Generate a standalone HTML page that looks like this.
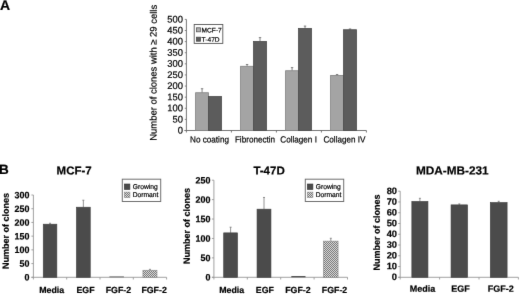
<!DOCTYPE html>
<html><head><meta charset="utf-8"><title>Figure</title>
<style>
html,body{margin:0;padding:0;background:#fff;}
body{width:520px;height:294px;overflow:hidden;font-family:"Liberation Sans", sans-serif;}
svg{display:block;will-change:transform;filter:grayscale(1);}
svg text{font-family:"Liberation Sans", sans-serif;fill:#000;stroke:#000;stroke-width:0.2px;}
</style></head><body>
<svg width="520" height="294" viewBox="0 0 520 294">
<defs>
<pattern id="chk" width="2" height="2" patternUnits="userSpaceOnUse">
<rect width="2" height="2" fill="#e4e4e4"/><rect width="1" height="1" fill="#6e6e6e"/><rect x="1" y="1" width="1" height="1" fill="#6e6e6e"/>
</pattern>
<filter id="soft" color-interpolation-filters="sRGB" x="0" y="0" width="520" height="294" filterUnits="userSpaceOnUse"><feConvolveMatrix order="3" kernelMatrix="0.0072 0.0847 0.0072 0.0847 1.0000 0.0847 0.0072 0.0847 0.0072" divisor="1.3673" edgeMode="duplicate" preserveAlpha="true"/></filter>
</defs>
<g filter="url(#soft)">
<rect width="520" height="294" fill="#fff"/>
<text transform="translate(-0.10,10.10) rotate(0.03) scale(1.0,1)" font-size="14" font-weight="bold" text-anchor="start">A</text>
<text transform="translate(-1.00,173.90) rotate(0.03) scale(1.0,1)" font-size="13.5" font-weight="bold" text-anchor="start">B</text>
<line x1="186.40" y1="19.40" x2="186.40" y2="132.50" stroke="#666" stroke-width="0.9"/>
<line x1="184.40" y1="130.50" x2="366.40" y2="130.50" stroke="#666" stroke-width="0.9"/>
<line x1="184.80" y1="130.50" x2="186.40" y2="130.50" stroke="#777" stroke-width="0.9"/>
<text transform="translate(183.00,133.50) rotate(0.03) scale(0.98,1)" font-size="9.6" stroke-width="0.35" text-anchor="end">0</text>
<line x1="184.80" y1="119.39" x2="186.40" y2="119.39" stroke="#777" stroke-width="0.9"/>
<text transform="translate(183.00,122.39) rotate(0.03) scale(0.98,1)" font-size="9.6" stroke-width="0.35" text-anchor="end">50</text>
<line x1="184.80" y1="108.28" x2="186.40" y2="108.28" stroke="#777" stroke-width="0.9"/>
<text transform="translate(183.00,111.28) rotate(0.03) scale(0.98,1)" font-size="9.6" stroke-width="0.35" text-anchor="end">100</text>
<line x1="184.80" y1="97.17" x2="186.40" y2="97.17" stroke="#777" stroke-width="0.9"/>
<text transform="translate(183.00,100.17) rotate(0.03) scale(0.98,1)" font-size="9.6" stroke-width="0.35" text-anchor="end">150</text>
<line x1="184.80" y1="86.06" x2="186.40" y2="86.06" stroke="#777" stroke-width="0.9"/>
<text transform="translate(183.00,89.06) rotate(0.03) scale(0.98,1)" font-size="9.6" stroke-width="0.35" text-anchor="end">200</text>
<line x1="184.80" y1="74.95" x2="186.40" y2="74.95" stroke="#777" stroke-width="0.9"/>
<text transform="translate(183.00,77.95) rotate(0.03) scale(0.98,1)" font-size="9.6" stroke-width="0.35" text-anchor="end">250</text>
<line x1="184.80" y1="63.84" x2="186.40" y2="63.84" stroke="#777" stroke-width="0.9"/>
<text transform="translate(183.00,66.84) rotate(0.03) scale(0.98,1)" font-size="9.6" stroke-width="0.35" text-anchor="end">300</text>
<line x1="184.80" y1="52.73" x2="186.40" y2="52.73" stroke="#777" stroke-width="0.9"/>
<text transform="translate(183.00,55.73) rotate(0.03) scale(0.98,1)" font-size="9.6" stroke-width="0.35" text-anchor="end">350</text>
<line x1="184.80" y1="41.62" x2="186.40" y2="41.62" stroke="#777" stroke-width="0.9"/>
<text transform="translate(183.00,44.62) rotate(0.03) scale(0.98,1)" font-size="9.6" stroke-width="0.35" text-anchor="end">400</text>
<line x1="184.80" y1="30.51" x2="186.40" y2="30.51" stroke="#777" stroke-width="0.9"/>
<text transform="translate(183.00,33.51) rotate(0.03) scale(0.98,1)" font-size="9.6" stroke-width="0.35" text-anchor="end">450</text>
<line x1="184.80" y1="19.40" x2="186.40" y2="19.40" stroke="#777" stroke-width="0.9"/>
<text transform="translate(183.00,22.40) rotate(0.03) scale(0.98,1)" font-size="9.6" stroke-width="0.35" text-anchor="end">500</text>
<line x1="231.40" y1="130.50" x2="231.40" y2="132.50" stroke="#666" stroke-width="0.9"/>
<line x1="276.40" y1="130.50" x2="276.40" y2="132.50" stroke="#666" stroke-width="0.9"/>
<line x1="321.40" y1="130.50" x2="321.40" y2="132.50" stroke="#666" stroke-width="0.9"/>
<line x1="366.40" y1="130.50" x2="366.40" y2="132.50" stroke="#666" stroke-width="0.9"/>
<line x1="202.07" y1="88.73" x2="202.07" y2="92.73" stroke="#666" stroke-width="0.8"/>
<line x1="200.88" y1="88.73" x2="203.27" y2="88.73" stroke="#666" stroke-width="0.8"/>
<rect x="195.60" y="92.73" width="12.95" height="37.77" fill="#a4a4a4" stroke="#808080" stroke-width="0.8"/>
<rect x="208.55" y="96.50" width="12.95" height="34.00" fill="#5c5c5c" stroke="#4a4a4a" stroke-width="0.8"/>
<line x1="247.07" y1="64.51" x2="247.07" y2="66.28" stroke="#666" stroke-width="0.8"/>
<line x1="245.88" y1="64.51" x2="248.27" y2="64.51" stroke="#666" stroke-width="0.8"/>
<line x1="260.02" y1="37.62" x2="260.02" y2="41.40" stroke="#666" stroke-width="0.8"/>
<line x1="258.82" y1="37.62" x2="261.22" y2="37.62" stroke="#666" stroke-width="0.8"/>
<rect x="240.60" y="66.28" width="12.95" height="64.22" fill="#a4a4a4" stroke="#808080" stroke-width="0.8"/>
<rect x="253.55" y="41.40" width="12.95" height="89.10" fill="#5c5c5c" stroke="#4a4a4a" stroke-width="0.8"/>
<line x1="292.07" y1="67.62" x2="292.07" y2="70.73" stroke="#666" stroke-width="0.8"/>
<line x1="290.88" y1="67.62" x2="293.27" y2="67.62" stroke="#666" stroke-width="0.8"/>
<line x1="305.02" y1="26.07" x2="305.02" y2="28.40" stroke="#666" stroke-width="0.8"/>
<line x1="303.82" y1="26.07" x2="306.22" y2="26.07" stroke="#666" stroke-width="0.8"/>
<rect x="285.60" y="70.73" width="12.95" height="59.77" fill="#a4a4a4" stroke="#808080" stroke-width="0.8"/>
<rect x="298.55" y="28.40" width="12.95" height="102.10" fill="#5c5c5c" stroke="#4a4a4a" stroke-width="0.8"/>
<line x1="337.07" y1="74.51" x2="337.07" y2="75.39" stroke="#666" stroke-width="0.8"/>
<line x1="335.88" y1="74.51" x2="338.27" y2="74.51" stroke="#666" stroke-width="0.8"/>
<line x1="350.02" y1="28.95" x2="350.02" y2="29.73" stroke="#666" stroke-width="0.8"/>
<line x1="348.82" y1="28.95" x2="351.22" y2="28.95" stroke="#666" stroke-width="0.8"/>
<rect x="330.60" y="75.39" width="12.95" height="55.11" fill="#a4a4a4" stroke="#808080" stroke-width="0.8"/>
<rect x="343.55" y="29.73" width="12.95" height="100.77" fill="#5c5c5c" stroke="#4a4a4a" stroke-width="0.8"/>
<text transform="translate(209.50,142.50) rotate(0.03) scale(0.915,1)" font-size="8.9" stroke-width="0.35" text-anchor="middle">No coating</text>
<text transform="translate(255.00,142.50) rotate(0.03) scale(0.915,1)" font-size="8.9" stroke-width="0.35" text-anchor="middle">Fibronectin</text>
<text transform="translate(298.60,142.50) rotate(0.03) scale(0.915,1)" font-size="8.9" stroke-width="0.35" text-anchor="middle">Collagen I</text>
<text transform="translate(344.50,142.50) rotate(0.03) scale(0.915,1)" font-size="8.9" stroke-width="0.35" text-anchor="middle">Collagen IV</text>
<text transform="translate(156.60,72.80) rotate(-89.97)" font-size="9.45" stroke-width="0.35" text-anchor="middle">Number of clones with &#8805; 29 cells</text>
<rect x="194.20" y="24.50" width="28.60" height="18.90" fill="#fff" stroke="#555" stroke-width="0.9"/>
<rect x="196.40" y="27.80" width="4.00" height="4.00" fill="#b0b0b0" stroke="#555" stroke-width="0.8"/>
<rect x="196.40" y="37.20" width="4.00" height="4.00" fill="#5c5c5c" stroke="#444" stroke-width="0.8"/>
<text transform="translate(201.60,32.40) rotate(0.03) scale(1.0,1)" font-size="6.6" text-anchor="start" stroke="none" fill="#222">MCF-7</text>
<text transform="translate(201.60,41.80) rotate(0.03) scale(1.0,1)" font-size="6.6" text-anchor="start" stroke="none" fill="#222">T-47D</text>
<line x1="33.40" y1="195.00" x2="33.40" y2="279.50" stroke="#979797" stroke-width="0.9"/>
<line x1="31.40" y1="277.30" x2="166.60" y2="277.30" stroke="#979797" stroke-width="0.9"/>
<line x1="31.40" y1="277.30" x2="33.40" y2="277.30" stroke="#979797" stroke-width="0.9"/>
<text transform="translate(29.50,280.56) rotate(0.03) scale(0.96,1)" font-size="9.3" font-weight="bold" text-anchor="end">0</text>
<line x1="31.40" y1="263.58" x2="33.40" y2="263.58" stroke="#979797" stroke-width="0.9"/>
<text transform="translate(29.50,266.84) rotate(0.03) scale(0.96,1)" font-size="9.3" font-weight="bold" text-anchor="end">50</text>
<line x1="31.40" y1="249.87" x2="33.40" y2="249.87" stroke="#979797" stroke-width="0.9"/>
<text transform="translate(29.50,253.12) rotate(0.03) scale(0.96,1)" font-size="9.3" font-weight="bold" text-anchor="end">100</text>
<line x1="31.40" y1="236.15" x2="33.40" y2="236.15" stroke="#979797" stroke-width="0.9"/>
<text transform="translate(29.50,239.41) rotate(0.03) scale(0.96,1)" font-size="9.3" font-weight="bold" text-anchor="end">150</text>
<line x1="31.40" y1="222.43" x2="33.40" y2="222.43" stroke="#979797" stroke-width="0.9"/>
<text transform="translate(29.50,225.69) rotate(0.03) scale(0.96,1)" font-size="9.3" font-weight="bold" text-anchor="end">200</text>
<line x1="31.40" y1="208.72" x2="33.40" y2="208.72" stroke="#979797" stroke-width="0.9"/>
<text transform="translate(29.50,211.97) rotate(0.03) scale(0.96,1)" font-size="9.3" font-weight="bold" text-anchor="end">250</text>
<line x1="31.40" y1="195.00" x2="33.40" y2="195.00" stroke="#979797" stroke-width="0.9"/>
<text transform="translate(29.50,198.25) rotate(0.03) scale(0.96,1)" font-size="9.3" font-weight="bold" text-anchor="end">300</text>
<line x1="66.70" y1="277.30" x2="66.70" y2="279.50" stroke="#979797" stroke-width="0.9"/>
<line x1="100.00" y1="277.30" x2="100.00" y2="279.50" stroke="#979797" stroke-width="0.9"/>
<line x1="133.30" y1="277.30" x2="133.30" y2="279.50" stroke="#979797" stroke-width="0.9"/>
<line x1="166.60" y1="277.30" x2="166.60" y2="279.50" stroke="#979797" stroke-width="0.9"/>
<line x1="50.05" y1="223.26" x2="50.05" y2="224.19" stroke="#777" stroke-width="0.8"/>
<line x1="49.05" y1="223.26" x2="51.05" y2="223.26" stroke="#777" stroke-width="0.8"/>
<rect x="43.25" y="224.19" width="13.60" height="53.11" fill="#4b4b4b" stroke="#3c3c3c" stroke-width="0.6"/>
<line x1="83.35" y1="200.21" x2="83.35" y2="207.21" stroke="#777" stroke-width="0.8"/>
<line x1="82.35" y1="200.21" x2="84.35" y2="200.21" stroke="#777" stroke-width="0.8"/>
<rect x="76.45" y="207.21" width="13.80" height="70.09" fill="#4b4b4b" stroke="#3c3c3c" stroke-width="0.6"/>
<rect x="109.40" y="276.40" width="14.50" height="0.90" fill="#6a6a6a"/>
<line x1="149.95" y1="269.34" x2="149.95" y2="270.30" stroke="#777" stroke-width="0.8"/>
<line x1="148.95" y1="269.34" x2="150.95" y2="269.34" stroke="#777" stroke-width="0.8"/>
<rect x="142.95" y="270.30" width="14.00" height="7.00" fill="url(#chk)" stroke="#8c8c8c" stroke-width="0.7"/>
<text transform="translate(51.65,293.00) rotate(0.03) scale(1.0,1)" font-size="8.8" font-weight="bold" text-anchor="middle">Media</text>
<text transform="translate(85.50,293.00) rotate(0.03) scale(1.0,1)" font-size="8.8" font-weight="bold" text-anchor="middle">EGF</text>
<text transform="translate(118.40,293.00) rotate(0.03) scale(1.0,1)" font-size="8.8" font-weight="bold" text-anchor="middle">FGF-2</text>
<text transform="translate(154.10,293.00) rotate(0.03) scale(1.0,1)" font-size="8.8" font-weight="bold" text-anchor="middle">FGF-2</text>
<text transform="translate(56.60,174.50) rotate(0.03) scale(1.0,1)" font-size="11.5" font-weight="bold" text-anchor="start">MCF-7</text>
<text transform="translate(8.80,231.10) rotate(-89.97)" font-size="9" font-weight="bold" text-anchor="middle">Number of clones</text>
<rect x="122.30" y="179.20" width="38.40" height="22.30" fill="#fff" stroke="#6e6e6e" stroke-width="1.0"/>
<rect x="124.30" y="184.00" width="5.60" height="5.50" fill="#4b4b4b" stroke="#333" stroke-width="0.6"/>
<rect x="124.30" y="192.10" width="5.60" height="5.50" fill="url(#chk)" stroke="#8c8c8c" stroke-width="0.6"/>
<text transform="translate(132.70,189.00) rotate(0.03) scale(0.96,1)" font-size="7.0" text-anchor="start" stroke-width="0.45">Growing</text>
<text transform="translate(132.70,197.00) rotate(0.03) scale(0.96,1)" font-size="7.0" text-anchor="start" stroke-width="0.45">Dormant</text>
<line x1="213.90" y1="180.20" x2="213.90" y2="279.50" stroke="#979797" stroke-width="0.9"/>
<line x1="211.90" y1="277.30" x2="347.50" y2="277.30" stroke="#979797" stroke-width="0.9"/>
<line x1="211.90" y1="277.30" x2="213.90" y2="277.30" stroke="#979797" stroke-width="0.9"/>
<text transform="translate(210.50,280.56) rotate(0.03) scale(0.96,1)" font-size="9.3" font-weight="bold" text-anchor="end">0</text>
<line x1="211.90" y1="257.88" x2="213.90" y2="257.88" stroke="#979797" stroke-width="0.9"/>
<text transform="translate(210.50,261.13) rotate(0.03) scale(0.96,1)" font-size="9.3" font-weight="bold" text-anchor="end">50</text>
<line x1="211.90" y1="238.46" x2="213.90" y2="238.46" stroke="#979797" stroke-width="0.9"/>
<text transform="translate(210.50,241.72) rotate(0.03) scale(0.96,1)" font-size="9.3" font-weight="bold" text-anchor="end">100</text>
<line x1="211.90" y1="219.04" x2="213.90" y2="219.04" stroke="#979797" stroke-width="0.9"/>
<text transform="translate(210.50,222.29) rotate(0.03) scale(0.96,1)" font-size="9.3" font-weight="bold" text-anchor="end">150</text>
<line x1="211.90" y1="199.62" x2="213.90" y2="199.62" stroke="#979797" stroke-width="0.9"/>
<text transform="translate(210.50,202.88) rotate(0.03) scale(0.96,1)" font-size="9.3" font-weight="bold" text-anchor="end">200</text>
<line x1="211.90" y1="180.20" x2="213.90" y2="180.20" stroke="#979797" stroke-width="0.9"/>
<text transform="translate(210.50,183.45) rotate(0.03) scale(0.96,1)" font-size="9.3" font-weight="bold" text-anchor="end">250</text>
<line x1="247.30" y1="277.30" x2="247.30" y2="279.50" stroke="#979797" stroke-width="0.9"/>
<line x1="280.70" y1="277.30" x2="280.70" y2="279.50" stroke="#979797" stroke-width="0.9"/>
<line x1="314.10" y1="277.30" x2="314.10" y2="279.50" stroke="#979797" stroke-width="0.9"/>
<line x1="347.50" y1="277.30" x2="347.50" y2="279.50" stroke="#979797" stroke-width="0.9"/>
<line x1="230.60" y1="227.20" x2="230.60" y2="232.87" stroke="#777" stroke-width="0.8"/>
<line x1="229.60" y1="227.20" x2="231.60" y2="227.20" stroke="#777" stroke-width="0.8"/>
<rect x="223.70" y="232.87" width="13.80" height="44.43" fill="#4b4b4b" stroke="#3c3c3c" stroke-width="0.6"/>
<line x1="264.00" y1="197.48" x2="264.00" y2="209.17" stroke="#777" stroke-width="0.8"/>
<line x1="263.00" y1="197.48" x2="265.00" y2="197.48" stroke="#777" stroke-width="0.8"/>
<rect x="257.05" y="209.17" width="13.90" height="68.13" fill="#4b4b4b" stroke="#3c3c3c" stroke-width="0.6"/>
<rect x="291.30" y="276.06" width="14.20" height="1.24" fill="#4b4b4b"/>
<line x1="330.80" y1="238.27" x2="330.80" y2="241.18" stroke="#777" stroke-width="0.8"/>
<line x1="329.80" y1="238.27" x2="331.80" y2="238.27" stroke="#777" stroke-width="0.8"/>
<rect x="323.55" y="241.18" width="14.50" height="36.12" fill="url(#chk)" stroke="#8c8c8c" stroke-width="0.7"/>
<text transform="translate(231.70,293.00) rotate(0.03) scale(1.0,1)" font-size="8.8" font-weight="bold" text-anchor="middle">Media</text>
<text transform="translate(264.90,293.00) rotate(0.03) scale(1.0,1)" font-size="8.8" font-weight="bold" text-anchor="middle">EGF</text>
<text transform="translate(297.90,293.00) rotate(0.03) scale(1.0,1)" font-size="8.8" font-weight="bold" text-anchor="middle">FGF-2</text>
<text transform="translate(334.50,293.00) rotate(0.03) scale(1.0,1)" font-size="8.8" font-weight="bold" text-anchor="middle">FGF-2</text>
<text transform="translate(253.40,174.50) rotate(0.03) scale(1.0,1)" font-size="11.5" font-weight="bold" text-anchor="start">T-47D</text>
<text transform="translate(189.80,226.00) rotate(-89.97)" font-size="9" font-weight="bold" text-anchor="middle">Number of clones</text>
<rect x="305.30" y="179.20" width="38.40" height="22.30" fill="#fff" stroke="#6e6e6e" stroke-width="1.0"/>
<rect x="307.30" y="184.00" width="5.60" height="5.50" fill="#4b4b4b" stroke="#333" stroke-width="0.6"/>
<rect x="307.30" y="192.10" width="5.60" height="5.50" fill="url(#chk)" stroke="#8c8c8c" stroke-width="0.6"/>
<text transform="translate(315.70,189.00) rotate(0.03) scale(0.96,1)" font-size="7.0" text-anchor="start" stroke-width="0.45">Growing</text>
<text transform="translate(315.70,197.00) rotate(0.03) scale(0.96,1)" font-size="7.0" text-anchor="start" stroke-width="0.45">Dormant</text>
<line x1="400.20" y1="191.20" x2="400.20" y2="279.50" stroke="#979797" stroke-width="0.9"/>
<line x1="398.20" y1="277.30" x2="518.40" y2="277.30" stroke="#979797" stroke-width="0.9"/>
<line x1="398.20" y1="277.30" x2="400.20" y2="277.30" stroke="#979797" stroke-width="0.9"/>
<text transform="translate(397.00,280.06) rotate(0.03) scale(1.0,1)" font-size="9.3" font-weight="bold" text-anchor="end">0</text>
<line x1="398.20" y1="266.54" x2="400.20" y2="266.54" stroke="#979797" stroke-width="0.9"/>
<text transform="translate(397.00,269.29) rotate(0.03) scale(1.0,1)" font-size="9.3" font-weight="bold" text-anchor="end">10</text>
<line x1="398.20" y1="255.78" x2="400.20" y2="255.78" stroke="#979797" stroke-width="0.9"/>
<text transform="translate(397.00,258.53) rotate(0.03) scale(1.0,1)" font-size="9.3" font-weight="bold" text-anchor="end">20</text>
<line x1="398.20" y1="245.01" x2="400.20" y2="245.01" stroke="#979797" stroke-width="0.9"/>
<text transform="translate(397.00,247.77) rotate(0.03) scale(1.0,1)" font-size="9.3" font-weight="bold" text-anchor="end">30</text>
<line x1="398.20" y1="234.25" x2="400.20" y2="234.25" stroke="#979797" stroke-width="0.9"/>
<text transform="translate(397.00,237.00) rotate(0.03) scale(1.0,1)" font-size="9.3" font-weight="bold" text-anchor="end">40</text>
<line x1="398.20" y1="223.49" x2="400.20" y2="223.49" stroke="#979797" stroke-width="0.9"/>
<text transform="translate(397.00,226.24) rotate(0.03) scale(1.0,1)" font-size="9.3" font-weight="bold" text-anchor="end">50</text>
<line x1="398.20" y1="212.72" x2="400.20" y2="212.72" stroke="#979797" stroke-width="0.9"/>
<text transform="translate(397.00,215.48) rotate(0.03) scale(1.0,1)" font-size="9.3" font-weight="bold" text-anchor="end">60</text>
<line x1="398.20" y1="201.96" x2="400.20" y2="201.96" stroke="#979797" stroke-width="0.9"/>
<text transform="translate(397.00,204.72) rotate(0.03) scale(1.0,1)" font-size="9.3" font-weight="bold" text-anchor="end">70</text>
<line x1="398.20" y1="191.20" x2="400.20" y2="191.20" stroke="#979797" stroke-width="0.9"/>
<text transform="translate(397.00,193.95) rotate(0.03) scale(1.0,1)" font-size="9.3" font-weight="bold" text-anchor="end">80</text>
<line x1="439.60" y1="277.30" x2="439.60" y2="279.50" stroke="#979797" stroke-width="0.9"/>
<line x1="479.00" y1="277.30" x2="479.00" y2="279.50" stroke="#979797" stroke-width="0.9"/>
<line x1="518.40" y1="277.30" x2="518.40" y2="279.50" stroke="#979797" stroke-width="0.9"/>
<line x1="419.90" y1="198.30" x2="419.90" y2="201.42" stroke="#777" stroke-width="0.8"/>
<line x1="418.90" y1="198.30" x2="420.90" y2="198.30" stroke="#777" stroke-width="0.8"/>
<rect x="411.85" y="201.42" width="16.10" height="75.88" fill="#4b4b4b" stroke="#3c3c3c" stroke-width="0.6"/>
<line x1="459.30" y1="203.90" x2="459.30" y2="204.87" stroke="#777" stroke-width="0.8"/>
<line x1="458.30" y1="203.90" x2="460.30" y2="203.90" stroke="#777" stroke-width="0.8"/>
<rect x="451.05" y="204.87" width="16.50" height="72.43" fill="#4b4b4b" stroke="#3c3c3c" stroke-width="0.6"/>
<line x1="498.70" y1="201.32" x2="498.70" y2="202.50" stroke="#777" stroke-width="0.8"/>
<line x1="497.70" y1="201.32" x2="499.70" y2="201.32" stroke="#777" stroke-width="0.8"/>
<rect x="490.30" y="202.50" width="16.80" height="74.80" fill="#4b4b4b" stroke="#3c3c3c" stroke-width="0.6"/>
<text transform="translate(422.40,291.80) rotate(0.03) scale(1.0,1)" font-size="9.0" font-weight="bold" text-anchor="middle">Media</text>
<text transform="translate(460.60,291.80) rotate(0.03) scale(1.0,1)" font-size="9.0" font-weight="bold" text-anchor="middle">EGF</text>
<text transform="translate(500.70,291.80) rotate(0.03) scale(1.0,1)" font-size="9.0" font-weight="bold" text-anchor="middle">FGF-2</text>
<text transform="translate(415.90,174.50) rotate(0.03) scale(1.0,1)" font-size="11.8" font-weight="bold" text-anchor="start">MDA-MB-231</text>
<text transform="translate(379.80,232.40) rotate(-89.97)" font-size="9" font-weight="bold" text-anchor="middle">Number of clones</text>
</g>
</svg>
</body></html>
